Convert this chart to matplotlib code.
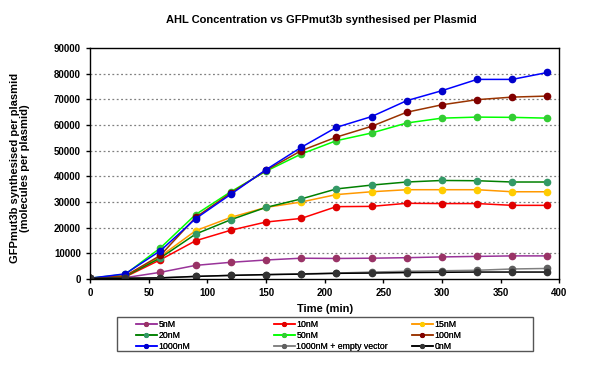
import matplotlib
matplotlib.use("Agg")
import matplotlib.pyplot as plt
from matplotlib.patches import Rectangle
import numpy as np

plt.rcParams['font.family'] = ['Liberation Sans', 'DejaVu Sans']

time = [0, 30, 60, 90, 120, 150, 180, 210, 240, 270, 300, 330, 360, 390]

nm5 = [300, 500, 2600, 5300, 6500, 7400, 8100, 8000, 8100, 8300, 8600, 8800, 9000, 9000]
nm10 = [300, 800, 7500, 14900, 19000, 22200, 23600, 28200, 28300, 29500, 29400, 29400, 28700, 28700]
nm15 = [300, 1000, 8800, 18800, 24000, 27900, 30000, 32900, 34000, 34800, 34800, 34800, 34000, 34000]
nm20 = [300, 1000, 8200, 17500, 23100, 27900, 31200, 35100, 36600, 37800, 38400, 38300, 37800, 37800]
nm50 = [300, 1800, 12100, 25100, 34000, 42000, 48700, 53900, 56900, 60800, 62700, 63100, 63000, 62700]
nm100 = [300, 1200, 9200, 24000, 33500, 42300, 50000, 55300, 59500, 65000, 67900, 69900, 70900, 71300]
nm1000 = [300, 2000, 11000, 23500, 33000, 42600, 51300, 59100, 63300, 69500, 73400, 77800, 77800, 80500]
nm1000_ev = [300, 300, 500, 1000, 1400, 1700, 2000, 2300, 2700, 3000, 3200, 3400, 3900, 4100]
nm0 = [300, 300, 400, 1000, 1400, 1700, 1900, 2200, 2300, 2500, 2600, 2700, 2700, 2700]

series = [
    ("5nM", nm5, "#993399", "#993366"),
    ("10nM", nm10, "#FF0000", "#E00000"),
    ("15nM", nm15, "#FF9900", "#FFCC00"),
    ("20nM", nm20, "#008000", "#339966"),
    ("50nM", nm50, "#00FF00", "#33CC33"),
    ("100nM", nm100, "#993300", "#800000"),
    ("1000nM", nm1000, "#0000FF", "#0000CC"),
    ("1000nM + empty vector", nm1000_ev, "#808080", "#606060"),
    ("0nM", nm0, "#000000", "#333333"),
]

fig = plt.figure(figsize=(6, 3.7), dpi=100)
ax = fig.add_axes([0.15, 0.246, 0.782, 0.624])

handles = {}
for name, vals, lc, mc in series:
    h, = ax.plot(time, vals, color=lc, lw=1.1, marker='o', ms=4.5,
                 mfc=mc, mec=mc, label=name)
    handles[name] = h

ax.set_xlim(0, 400)
ax.set_ylim(0, 90000)
ax.set_xticks(np.arange(0, 401, 50))
ax.set_yticks(np.arange(0, 90001, 10000))
ax.tick_params(labelsize=7, direction='out', length=3, width=1)
for lab in ax.get_xticklabels() + ax.get_yticklabels():
    lab.set_fontweight('bold')
for gy in range(10000, 90000, 10000):
    ax.axhline(gy, color='#808080', ls=(0, (1.5, 2)), lw=0.9, zorder=0)
for s in ax.spines.values():
    s.set_linewidth(1)

ax.set_xlabel("Time (min)", fontsize=8, fontweight='bold', labelpad=4)
fig.text(0.034, 0.545, "GFPmut3b synthesised per plasmid\n(molecules per plasmid)",
         rotation=90, ha='center', va='center', fontsize=8, fontweight='bold',
         multialignment='center', linespacing=1.0)
fig.suptitle("AHL Concentration vs GFPmut3b synthesised per Plasmid",
             x=0.535, y=0.96, fontsize=8, fontweight='bold')

# legend frame + three columns
fig.patches.append(Rectangle((117 / 600, 1 - 351 / 370), 416 / 600, 34 / 370,
                             transform=fig.transFigure, fill=False,
                             edgecolor='#555555', lw=1))
columns = [["5nM", "20nM", "1000nM"],
           ["10nM", "50nM", "1000nM + empty vector"],
           ["15nM", "100nM", "0nM"]]
col_x = [134, 272, 410]
for cx, names in zip(col_x, columns):
    leg = fig.legend([handles[n] for n in names], names, loc='upper left',
                     bbox_to_anchor=(cx / 600, 1 - 318 / 370), fontsize=6.3,
                     frameon=False, borderaxespad=0, borderpad=0.2,
                     handlelength=2.4, handletextpad=0.2, labelspacing=0.25,
                     markerscale=0.6)
    fig.add_artist(leg)

fig.savefig("out.png", dpi=100)
